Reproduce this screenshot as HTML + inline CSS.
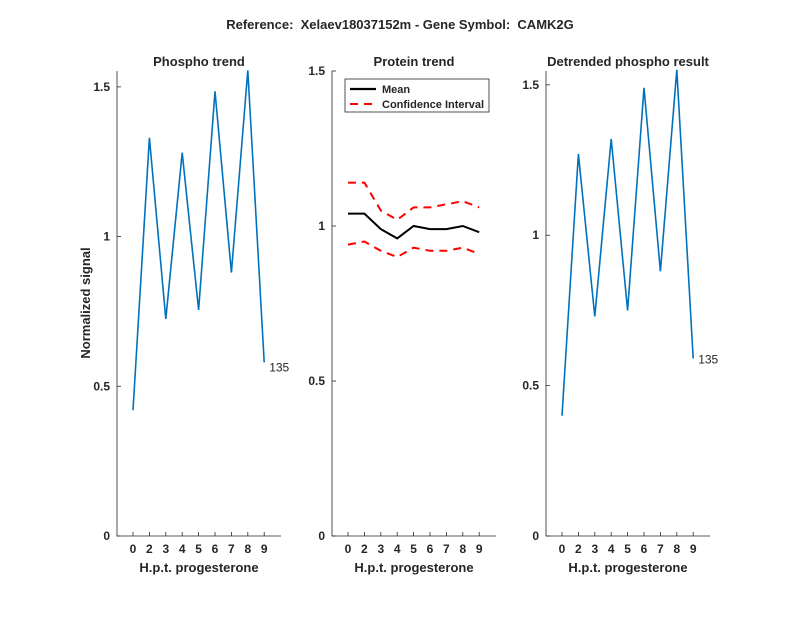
<!DOCTYPE html>
<html><head><meta charset="utf-8"><style>
body{margin:0;background:#fff;}
svg text{font-family:"Liberation Sans",sans-serif;fill:#262626;}
</style></head><body>
<svg id="c" width="800" height="618" xmlns="http://www.w3.org/2000/svg">
<text x="400" y="29" text-anchor="middle" font-size="13" font-weight="bold" fill="#000" style="white-space:pre">Reference:  Xelaev18037152m - Gene Symbol:  CAMK2G</text>
</svg>
<script>
const xLabels=["0","2","3","4","5","6","7","8","9"];
const phospho=[0.42,1.33,0.725,1.28,0.755,1.485,0.88,1.555,0.58];
const protMean=[1.04,1.04,0.99,0.96,1.0,0.99,0.99,1.0,0.98];
const protUpper=[1.14,1.14,1.05,1.02,1.06,1.06,1.07,1.08,1.06];
const protLower=[0.94,0.95,0.92,0.90,0.93,0.92,0.92,0.93,0.91];
const detrended=[0.40,1.27,0.73,1.32,0.75,1.49,0.88,1.55,0.59];
const yTicks=[0,0.5,1,1.5];
const yTickLabels=["0","0.5","1","1.5"];
const svg=document.getElementById('c');
const NS='http://www.w3.org/2000/svg';
function el(tag,attrs,parent){const e=document.createElementNS(NS,tag);for(const k in attrs)e.setAttribute(k,attrs[k]);(parent||svg).appendChild(e);return e;}
const yTop=71,yBot=536;
function panel(left,ymax,title,name){
  const g=el('g',{});
  
  
  const right=left+164;
  const xs=i=>left+16+i*16.4;
  const ys=v=>yBot-(v/ymax)*(yBot-yTop);
  const ax=el('path',{d:`M${left},${yTop}V${yBot}H${right}`,stroke:'#262626','stroke-width':0.8,fill:'none'},g);
  
  
  xLabels.forEach((l,i)=>{
    el('line',{x1:xs(i),x2:xs(i),y1:yBot,y2:yBot-4,stroke:'#262626','stroke-width':0.8},g);
    const t=el('text',{x:xs(i),y:yBot+17,'text-anchor':'middle','font-size':12,'font-weight':'bold'},g);
    t.textContent=l;
    
    
  });
  yTicks.forEach((v,i)=>{
    if(v>ymax)return;
    el('line',{x1:left,x2:left+4,y1:ys(v),y2:ys(v),stroke:'#262626','stroke-width':0.8},g);
    const t=el('text',{x:left-7,y:ys(v)+4,'text-anchor':'end','font-size':12,'font-weight':'bold'},g);
    t.textContent=yTickLabels[i];
    
    
  });
  const tt=el('text',{x:left+82,y:66,'text-anchor':'middle','font-size':13,'font-weight':'bold',fill:'#000'},g);
  tt.textContent=title;
  
  
  const xl=el('text',{x:left+82,y:572,'text-anchor':'middle','font-size':13,'font-weight':'bold'},g);
  xl.textContent='H.p.t. progesterone';
  
  
  return {g,xs,ys};
}
function line(p,data,color,dash,name,w){
  const d=data.map((v,i)=>(i?'L':'M')+p.xs(i)+','+p.ys(v)).join('');
  const a={d,stroke:color,'stroke-width':w,fill:'none'};
  if(dash)a['stroke-dasharray']='8,6';
  const e=el('path',a,p.g);
  
  
}
const p1=panel(117,1.553,'Phospho trend','phospho-panel');
line(p1,phospho,'#0072BD',false,'phospho-line',1.6);
let t=el('text',{x:p1.xs(8)+5,y:p1.ys(phospho[8])+9,'font-size':12,fill:'#000'},p1.g);t.textContent='135';


const yl=el('text',{x:0,y:0,'font-size':13,'font-weight':'bold','text-anchor':'middle',transform:'translate(90,303) rotate(-90)'});
yl.textContent='Normalized signal';


const p2=panel(332,1.5,'Protein trend','protein-panel');
line(p2,protUpper,'#FF0000',true,'ci-upper',2);
line(p2,protLower,'#FF0000',true,'ci-lower',2);
line(p2,protMean,'#000',false,'mean-line',2);
const lg=el('g',{},p2.g);


el('rect',{x:345,y:79,width:144,height:33,fill:'#fff',stroke:'#262626','stroke-width':0.8},lg);
el('line',{x1:350,x2:376,y1:89,y2:89,stroke:'#000','stroke-width':2.2},lg);
el('line',{x1:350,x2:376,y1:104,y2:104,stroke:'#f00','stroke-width':2,'stroke-dasharray':'8,6'},lg);
t=el('text',{x:382,y:93,'font-size':11,'font-weight':'bold',fill:'#000'},lg);t.textContent='Mean';


t=el('text',{x:382,y:108,'font-size':11,'font-weight':'bold',fill:'#000'},lg);t.textContent='Confidence Interval';


const p3=panel(546,1.546,'Detrended phospho result','detrended-panel');
line(p3,detrended,'#0072BD',false,'detrended-line',1.6);
t=el('text',{x:p3.xs(8)+5,y:p3.ys(detrended[8])+5,'font-size':12,fill:'#000'},p3.g);t.textContent='135';


</script>
</body></html>
